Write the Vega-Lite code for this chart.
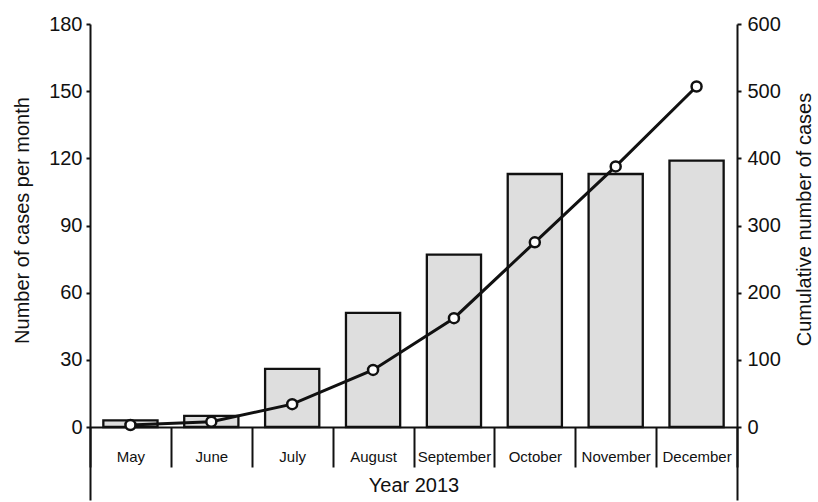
{
  "$schema": "https://vega.github.io/schema/vega-lite/v6.json",
  "autosize": "none",
  "width": 647,
  "height": 476,
  "padding": {"left": 90, "top": 24, "right": 81, "bottom": 2},
  "background": "white",
  "config": {
    "view": {"stroke": null},
    "font": "Liberation Sans",
    "axis": {"grid": false, "domainColor": "#111", "domainWidth": 2, "tickColor": "#111", "tickWidth": 2, "labelColor": "#111", "titleColor": "#111", "labelFont": "Liberation Sans", "titleFont": "Liberation Sans", "titleFontWeight": "normal"},
    "axisX": {"labelFontSize": 15, "titleFontSize": 20, "labelLimit": 200}
  },
  "data": {"values": [
    {"month": "May", "cases": 3, "cumulative": 3},
    {"month": "June", "cases": 5, "cumulative": 8},
    {"month": "July", "cases": 26, "cumulative": 34},
    {"month": "August", "cases": 51, "cumulative": 85},
    {"month": "September", "cases": 77, "cumulative": 162},
    {"month": "October", "cases": 113, "cumulative": 275},
    {"month": "November", "cases": 113, "cumulative": 388},
    {"month": "December", "cases": 119, "cumulative": 507}
  ]},
  "encoding": {
    "x": {
      "field": "month", "type": "nominal", "sort": null,
      "scale": {"paddingInner": 0, "paddingOuter": 0},
      "axis": {
        "title": "Year 2013", "titleFontSize": 20, "titlePadding": 7,
        "labelAngle": 0, "labelFontSize": 15, "labelPadding": -18,
        "tickBand": "extent", "tickSize": 40, "offset": -73
      }
    }
  },
  "layer": [
    {
      "mark": {"type": "bar", "fill": "#dedede", "stroke": "#111", "strokeWidth": 2.3, "width": {"band": 0.67}},
      "encoding": {
        "y": {
          "field": "cases", "type": "quantitative",
          "scale": {"domain": [-32.6, 180], "nice": false, "zero": false},
          "axis": {"title": "Number of cases per month", "titleFontSize": 20, "titlePadding": 16, "titleY": 196, "labelFontSize": 20, "values": [0, 30, 60, 90, 120, 150, 180], "tickSize": 4, "labelPadding": 4, "orient": "left"}
        }
      }
    },
    {
      "mark": {"type": "line", "color": "#111", "strokeWidth": 3},
      "encoding": {
        "y": {
          "field": "cumulative", "type": "quantitative",
          "scale": {"domain": [-108.67, 600], "nice": false, "zero": false},
          "axis": {"title": "Cumulative number of cases", "titleFontSize": 20, "titlePadding": 14, "titleY": 195, "titleAngle": 270, "titleBaseline": "top", "labelFontSize": 20, "values": [0, 100, 200, 300, 400, 500, 600], "tickSize": 4, "labelPadding": 6, "orient": "right"}
        }
      }
    },
    {
      "mark": {"type": "point", "filled": true, "fill": "white", "stroke": "#111", "strokeWidth": 2.5, "size": 100, "opacity": 1},
      "encoding": {
        "y": {"field": "cumulative", "type": "quantitative", "scale": {"domain": [-108.67, 600], "nice": false, "zero": false}, "axis": null}
      }
    }
  ],
  "resolve": {"scale": {"y": "independent"}}
}
